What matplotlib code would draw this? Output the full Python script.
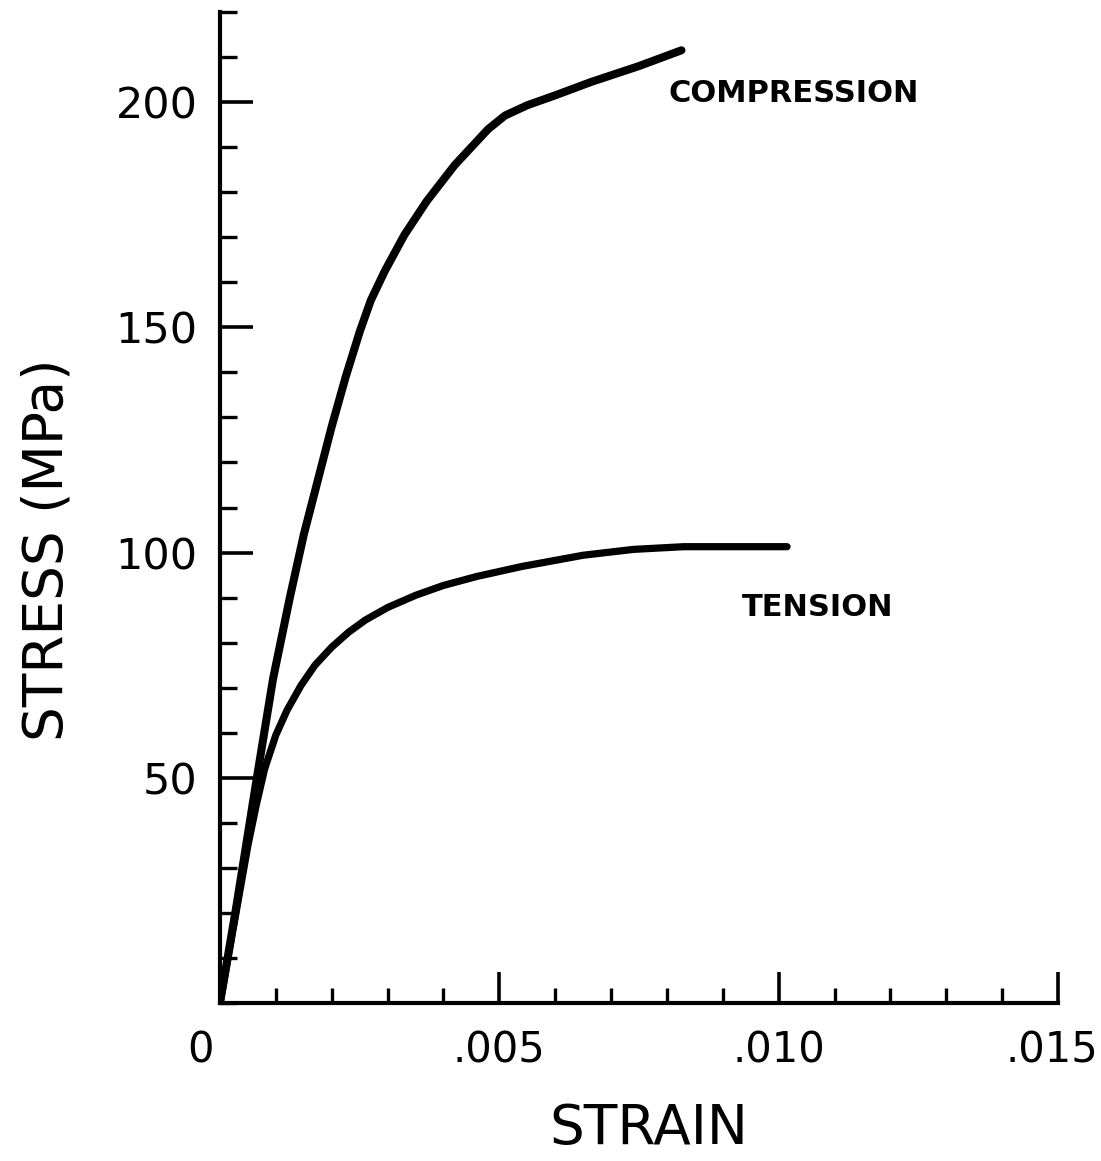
import matplotlib
matplotlib.use("Agg")
import matplotlib.pyplot as plt
from matplotlib.ticker import MultipleLocator, FixedLocator
from matplotlib.transforms import ScaledTranslation

# Stress-strain curves (strain, stress in MPa)
comp_strain = [0, 0.00030, 0.00066, 0.00095, 0.00125, 0.00150, 0.00175, 0.00200,
               0.00225, 0.00250, 0.00270, 0.00295, 0.00330, 0.00370, 0.00420,
               0.00450, 0.00480, 0.00510, 0.00550, 0.00600, 0.00665, 0.00750,
               0.00826]
comp_stress = [0, 22, 50, 72, 90, 104, 116, 128, 139, 149, 156, 162.5, 170.5,
               178, 186, 190, 194, 197, 199.3, 201.5, 204.5, 208, 211.5]

tens_strain = [0, 0.00030, 0.00050, 0.00065, 0.00080, 0.00100, 0.00120, 0.00145,
               0.00170, 0.00200, 0.00230, 0.00260, 0.00300, 0.00350, 0.00400,
               0.00460, 0.00540, 0.00650, 0.00740, 0.00830, 0.01015]
tens_stress = [0, 21, 35, 44, 52, 59.5, 65, 70.5, 75, 79, 82.3, 85, 87.8, 90.5,
               92.7, 94.7, 96.9, 99.4, 100.7, 101.3, 101.3]

x_major = [0, 0.005, 0.010, 0.015]
x_major_labels = ["0", ".005", ".010", ".015"]
y_major = [50, 100, 150, 200]
y_major_labels = ["50", "100", "150", "200"]

W, H = 1101, 1161
fig = plt.figure(figsize=(W / 100, H / 100), dpi=100)
left, right, top, bottom = 220, 1058, 12, 1003
ax = fig.add_axes([left / W, 1 - bottom / H, (right - left) / W, (bottom - top) / H])

ax.plot(comp_strain, comp_stress, color="black", lw=5.8, solid_capstyle="round",
        solid_joinstyle="round")
ax.plot(tens_strain, tens_stress, color="black", lw=5.2, solid_capstyle="round",
        solid_joinstyle="round")

ax.set_xlim(0, 0.015)
ax.set_ylim(0, 220)

for side in ("top", "right"):
    ax.spines[side].set_visible(False)
for side in ("left", "bottom"):
    ax.spines[side].set_linewidth(3.0)

ax.xaxis.set_major_locator(FixedLocator(x_major))
ax.set_xticklabels(x_major_labels)
ax.xaxis.set_minor_locator(MultipleLocator(0.001))
ax.yaxis.set_major_locator(FixedLocator(y_major))
ax.set_yticklabels(y_major_labels)
ax.yaxis.set_minor_locator(MultipleLocator(10))

ax.tick_params(axis="both", which="both", direction="in", color="black")
ax.tick_params(axis="x", which="major", length=22, width=2.6, pad=19, labelsize=30)
ax.tick_params(axis="x", which="minor", length=11, width=2.4)
ax.tick_params(axis="y", which="major", length=24, width=2.6, pad=16, labelsize=31)
ax.tick_params(axis="y", which="minor", length=12, width=2.4)

# the "0" label sits left of the origin, the ".015" label is pulled in from the edge
xlabels = ax.get_xticklabels()
xlabels[0].set_transform(xlabels[0].get_transform()
                         + ScaledTranslation(-0.19, 0, fig.dpi_scale_trans))
xlabels[-1].set_transform(xlabels[-1].get_transform()
                          + ScaledTranslation(-0.06, 0, fig.dpi_scale_trans))

ax.text(0.00802, 200, "COMPRESSION", fontsize=22, fontweight="bold",
        ha="left", va="baseline")
ax.text(0.00934, 86, "TENSION", fontsize=22, fontweight="bold",
        ha="left", va="baseline")

fig.text(48 / W, 1 - 550 / H, "STRESS (MPa)", rotation=90, fontsize=39.5,
         ha="center", va="center")
fig.text(649 / W, 1 - 1129 / H, "STRAIN", fontsize=39.5, ha="center", va="center")

fig.savefig("out.png", dpi=100)
